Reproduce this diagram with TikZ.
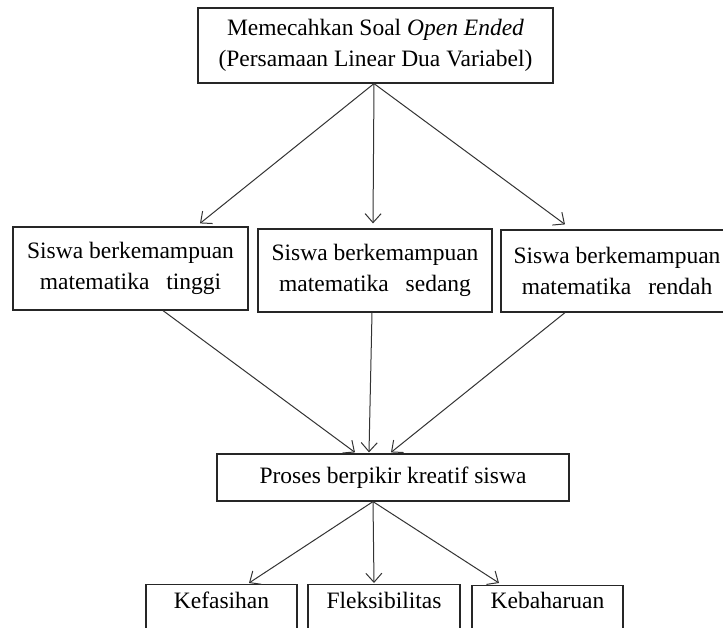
\documentclass[tikz,border=0pt]{standalone}
\usepackage{fontspec}
\setmainfont{Liberation Serif}
\usetikzlibrary{arrows.meta}
\begin{document}
\begin{tikzpicture}[x=1pt,y=-1pt,
  box/.style={draw=black!85,line width=1.2pt,fill=white,inner sep=0pt,align=center,
    font=\fontsize{23.5}{30.5}\selectfont},
  arr/.style={draw=black!80,line width=1pt,-{Straight Barb[length=9pt,width=16pt,line width=1pt]}}]
\useasboundingbox (0,0) rectangle (723,628);
\clip (0,0) rectangle (723,628);
\fill[white] (0,0) rectangle (723,628);
\node[box,minimum width=355pt,minimum height=75pt] (top) at (375.5,45.5)
  {Memecahkan Soal \textit{Open Ended}\\(Persamaan Linear Dua Variabel)};
\node[box,minimum width=235pt,minimum height=83pt] (tinggi) at (130.5,268.5)
  {Siswa berkemampuan\\matematika\hspace{0.72em}tinggi};
\node[box,minimum width=234pt,minimum height=83pt] (sedang) at (375,270.5)
  {Siswa berkemampuan\\matematika\hspace{0.72em}sedang};
\node[box,minimum width=232pt,minimum height=82pt] (rendah) at (617,271)
  {Siswa berkemampuan\\matematika\hspace{0.72em}rendah};
\node[box,minimum width=352pt,text height=29pt,text depth=18pt] (proses) at (393,477.5)
  {Proses berpikir kreatif siswa};
\node[box,anchor=north,minimum width=151pt,text height=24pt,text depth=30pt] (kef) at (221.5,584)
  {Kefasihan};
\node[box,anchor=north,minimum width=152pt,text height=24pt,text depth=30pt] (fle) at (384,584)
  {Fleksibilitas};
\node[box,anchor=north,minimum width=151pt,text height=23pt,text depth=30pt] (keb) at (547.5,585)
  {Kebaharuan};
% top to second row
\draw[arr] ([xshift=-1.5pt]top.south) -- ([xshift=69.5pt,yshift=3pt]tinggi.north);
\draw[arr] ([xshift=-1.5pt]top.south) -- ([xshift=-2pt,yshift=5pt]sedang.north);
\draw[arr] ([xshift=-1.5pt]top.south) -- ([xshift=-52pt,yshift=5pt]rendah.north);
% second row to process
\draw[arr] ([xshift=32.5pt]tinggi.south) -- ([xshift=-38pt,yshift=1pt]proses.north);
\draw[arr] ([xshift=-3pt]sedang.south) -- ([xshift=-24pt,yshift=1pt]proses.north);
\draw[arr] ([xshift=-52pt]rendah.south) -- ([xshift=-2pt,yshift=1pt]proses.north);
% process to bottom row
\draw[arr] ([xshift=-20pt]proses.south) -- ([xshift=27.5pt,yshift=1pt]kef.north);
\draw[arr] ([xshift=-20pt]proses.south) -- ([xshift=-10pt,yshift=1pt]fle.north);
\draw[arr] ([xshift=-20pt]proses.south) -- ([xshift=-48.5pt,yshift=2pt]keb.north);
\end{tikzpicture}
\end{document}
